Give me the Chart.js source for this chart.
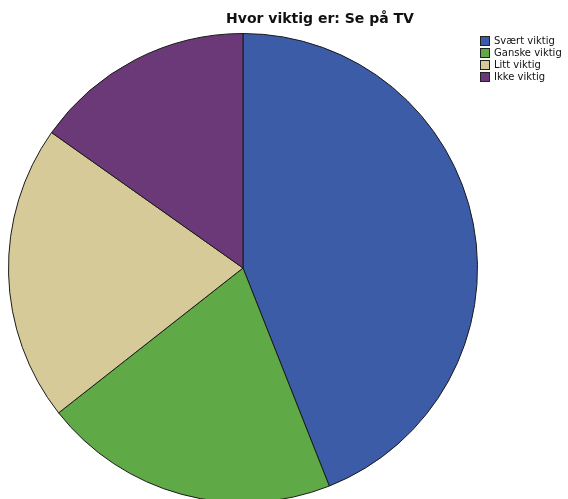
<!DOCTYPE html>
<html>
<head>
<meta charset="utf-8">
<script src="https://cdn.jsdelivr.net/npm/chart.js@4/dist/chart.umd.min.js"></script>
<style>
    html, body { margin: 0; padding: 0; background: #fff; overflow: hidden; }
    #wrap { position: relative; width: 568px; height: 540px; }
</style>
</head>
<body>
<div id="wrap"><canvas id="myChart"></canvas></div>
<script>
const title = 'Hvor viktig er: Se på TV';
const labels = ['Svært viktig', 'Ganske viktig', 'Litt viktig', 'Ikke viktig'];
const percentages = [44.0, 20.4, 20.4, 15.2];
const colors = ['#3c5ca8', '#5faa46', '#d5ca98', '#6b3878'];

// title and small legend box drawn on the canvas, they do not take room from the pie
const overlayPlugin = {
    id: 'overlay',
    afterDraw(chart) {
        const ctx = chart.ctx;
        ctx.save();

        ctx.fillStyle = '#111';
        ctx.font = 'bold 14px "DejaVu Sans"';
        ctx.textAlign = 'center';
        ctx.textBaseline = 'middle';
        ctx.fillText(title, 320, 19);

        ctx.font = '10px "DejaVu Sans"';
        ctx.textAlign = 'left';
        chart.data.labels.forEach((label, i) => {
            let y = 36 + i * 12;
            ctx.fillStyle = chart.data.datasets[0].backgroundColor[i];
            ctx.fillRect(480.5, y + 0.5, 9, 9);
            ctx.strokeStyle = '#222';
            ctx.lineWidth = 1;
            ctx.strokeRect(480.5, y + 0.5, 9, 9);
            ctx.fillStyle = '#111';
            ctx.fillText(label, 494, y + 5.5);
        });

        ctx.restore();
    }
};

new Chart(document.getElementById('myChart'), {
    type: 'pie',
    data: {
        labels: labels,
        datasets: [{
            data: percentages,
            backgroundColor: colors,
            borderColor: '#1a1a1a',
            borderWidth: 1,
        }]
    },
    options: {
        responsive: true,
        maintainAspectRatio: false,
        animation: false,
        layout: {
            padding: { left: 8, top: 33, right: 90, bottom: 37 }
        },
        plugins: {
            legend: { display: false },
            title: { display: false },
            tooltip: { enabled: false }
        }
    },
    plugins: [overlayPlugin]
});
</script>
</body>
</html>
